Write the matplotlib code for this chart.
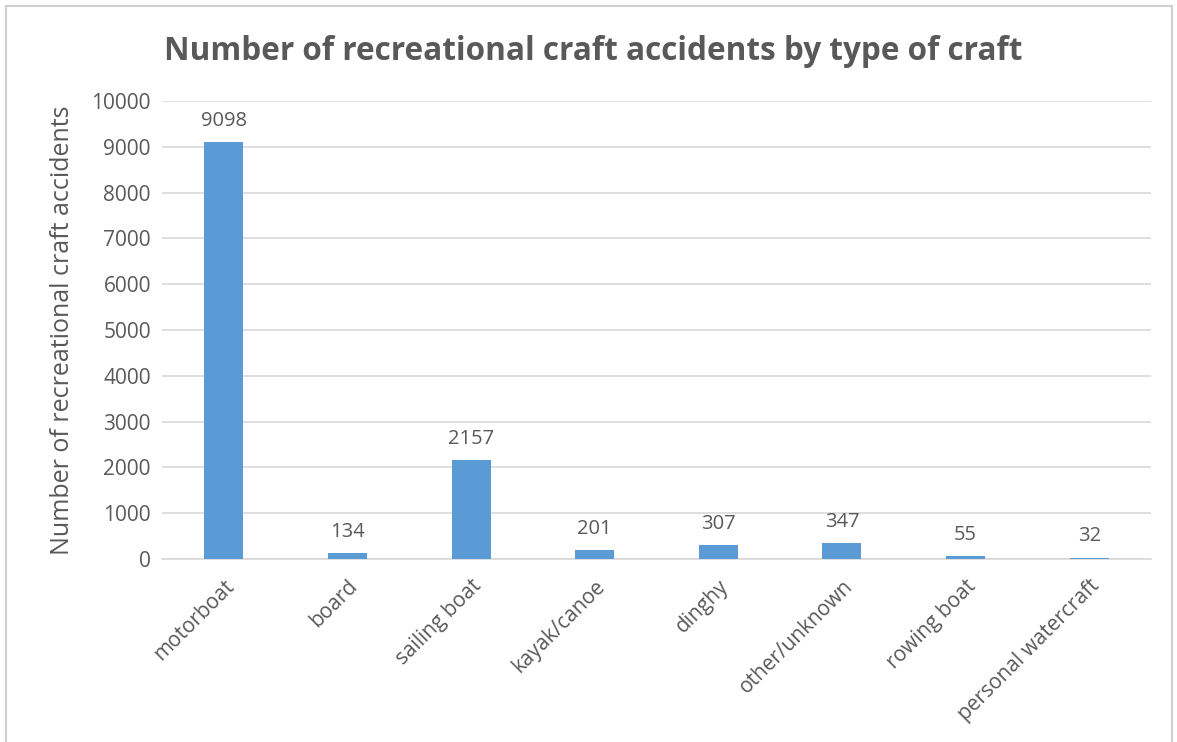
import matplotlib
matplotlib.use("Agg")
import matplotlib.pyplot as plt
from matplotlib.patches import Rectangle

categories = ["motorboat", "board", "sailing boat", "kayak/canoe", "dinghy",
              "other/unknown", "rowing boat", "personal watercraft"]
accidents = [9098, 134, 2157, 201, 307, 347, 55, 32]
y_ticks = [0, 1000, 2000, 3000, 4000, 5000, 6000, 7000, 8000, 9000, 10000]

plt.rcParams["font.family"] = ["Open Sans", "DejaVu Sans"]
text_color = "#595959"
bar_color = "#5B9BD5"
grid_color = "#D9D9D9"

W, H = 1177, 742
fig = plt.figure(figsize=(W / 100, H / 100), dpi=100)

# outer chart frame
fig.patches.append(Rectangle((6 / W, -0.01), (1172 - 6) / W, 1 - 6 / H + 0.01,
                             transform=fig.transFigure, fill=False,
                             edgecolor="#D0D0D0", linewidth=1.5))

ax_left, ax_right = 162 / W, 1151 / W
ax_bottom, ax_top = 1 - 559 / H, 1 - 101 / H
ax = fig.add_axes([ax_left, ax_bottom, ax_right - ax_left, ax_top - ax_bottom])

x = range(len(categories))
bars = ax.bar(x, accidents, width=0.315, color=bar_color, zorder=3)
for xi, v in zip(x, accidents):
    ax.annotate(str(v), (xi, v), xytext=(0, 8), textcoords="offset points",
                ha="center", va="bottom", fontsize=14.5, color=text_color)

ax.set_xlim(-0.5, len(categories) - 0.5)
ax.set_ylim(0, 10000)
ax.set_yticks(y_ticks)
ax.set_yticklabels([str(t) for t in y_ticks], fontsize=15, color=text_color)
ax.set_xticks(list(x))
ax.set_xticklabels(categories, rotation=45, ha="right", rotation_mode="anchor",
                   fontsize=15, color=text_color)
ax.tick_params(axis="both", length=0, pad=8)
ax.tick_params(axis="x", pad=12)

ax.yaxis.grid(True, color=grid_color, linewidth=1.2, zorder=0)
for s in ["top", "right", "left"]:
    ax.spines[s].set_visible(False)
ax.spines["bottom"].set_color(grid_color)
ax.spines["bottom"].set_linewidth(1.2)

ax.set_ylabel("Number of recreational craft accidents", fontsize=18,
              color=text_color, labelpad=12)

fig.text(593 / W, 1 - 52 / H, "Number of recreational craft accidents by type of craft",
         ha="center", va="center", fontsize=22.7, fontweight="bold", color=text_color)

fig.savefig("out.png", dpi=100, facecolor="white")
